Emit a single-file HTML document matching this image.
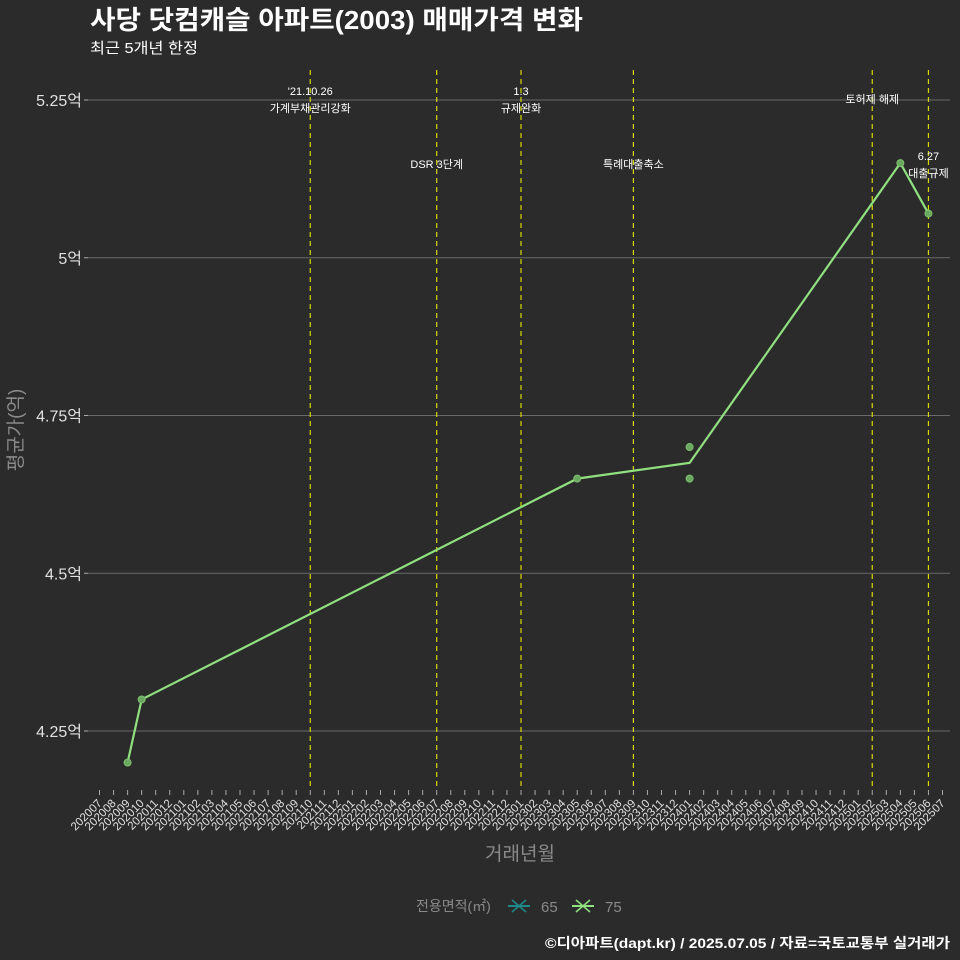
<!DOCTYPE html>
<html><head><meta charset="utf-8">
<style>
body{margin:0;background:#2b2b2b;}
svg{display:block;font-family:"Liberation Sans","Noto Sans CJK KR",sans-serif;}
</style></head>
<body>
<svg id="chart" width="960" height="960" viewBox="0 0 960 960">
<rect width="960" height="960" fill="#2b2b2b"/>
<text x="90" y="29" font-size="26" font-weight="bold" fill="#ffffff" textLength="493" lengthAdjust="spacingAndGlyphs">사당 닷컴캐슬 아파트(2003) 매매가격 변화</text>
<text x="90" y="53" font-size="15" fill="#ffffff" textLength="108" lengthAdjust="spacingAndGlyphs">최근 5개년 한정</text>
<g id="grid"></g><g id="vlines"></g><g id="series"></g><g id="xaxis"></g>
<text x="520" y="860" font-size="19" fill="#8a8a8a" text-anchor="middle">거래년월</text>
<text transform="translate(22,430) rotate(-90)" font-size="19" fill="#8a8a8a" text-anchor="middle">평균가(억)</text>
<g>
<text x="416" y="911" font-size="14" fill="#8a8a8a">전용면적(㎡)</text>
<g><line x1="508" y1="906" x2="530" y2="906" stroke="#1f8a8a" stroke-width="2"/><line x1="512" y1="900" x2="526" y2="912" stroke="#1f8a8a" stroke-width="1.5"/><line x1="512" y1="912" x2="526" y2="900" stroke="#1f8a8a" stroke-width="1.5"/><text x="541" y="912" font-size="15" fill="#8a8a8a">65</text></g>
<g><line x1="572" y1="906" x2="594" y2="906" stroke="#90e080" stroke-width="2"/><line x1="576" y1="900" x2="590" y2="912" stroke="#90e080" stroke-width="1.5"/><line x1="576" y1="912" x2="590" y2="900" stroke="#90e080" stroke-width="1.5"/><text x="605" y="912" font-size="15" fill="#8a8a8a">75</text></g>
</g>
<text x="545" y="948" font-size="14" font-weight="bold" fill="#ffffff" textLength="405" lengthAdjust="spacingAndGlyphs">©디아파트(dapt.kr) / 2025.07.05 / 자료=국토교통부 실거래가</text>
</svg>
<script>
const yTicks=[4.25,4.5,4.75,5.0,5.25];
const yTickLabels=["4.25억","4.5억","4.75억","5억","5.25억"];
const lineMonths=["202009","202010","202305","202401","202504","202506"];
const lineValues=[4.2,4.3,4.65,4.675,5.15,5.07];
const pointMonths=["202009","202010","202305","202401","202401","202504","202506"];
const pointValues=[4.2,4.3,4.65,4.7,4.65,5.15,5.07];
const eventMonths=["202110","202207","202301","202309","202502","202506"];
const eventLabels=[["'21.10.26","가계부채관리강화"],["DSR 3단계"],["1.3","규제완화"],["특례대출축소"],["토허제 해제"],["6.27","대출규제"]];
const eventRows=[0,1,0,1,0,1];

const NS="http://www.w3.org/2000/svg";
const months=[];for(let y=2020;y<=2025;y++)for(let m=1;m<=12;m++){const s=y+String(m).padStart(2,"0");if(s>="202007"&&s<="202507")months.push(s);}
const X=m=>99.5+months.indexOf(m)*14.05;
const Y=v=>731-(v-4.25)/0.25*157.75;
function mk(tag,attrs,parent){const e=document.createElementNS(NS,tag);for(const k in attrs)e.setAttribute(k,attrs[k]);parent.appendChild(e);return e;}
const grid=document.getElementById("grid");
yTicks.forEach((v,i)=>{
 const l=mk("line",{x1:88,x2:950,y1:Y(v),y2:Y(v),stroke:"#6a6a6a","stroke-width":1},grid);
 
 
 mk("line",{x1:84,x2:88,y1:Y(v),y2:Y(v),stroke:"#aaa"},grid);
 const t=mk("text",{x:82,y:Y(v)+6,"font-size":16,fill:"#e0e0e0","text-anchor":"end"},grid);
 t.textContent=yTickLabels[i];
 
 
});
const vl=document.getElementById("vlines");
eventMonths.forEach((m,i)=>{
 const x=X(m);
 const l=mk("line",{x1:x,x2:x,y1:70,y2:790,stroke:"#d8d800","stroke-width":1.2,"stroke-dasharray":"5,4"},vl);
 
 
 const lines=eventLabels[i];
 let y0=eventRows[i]===0?95:168;
 if(lines.length===1)y0=eventRows[i]===0?103:168;
 if(i===5)y0=160;
 lines.forEach((s,j)=>{
  const t=mk("text",{x:x,y:y0+j*17,"font-size":11,fill:"#ffffff","text-anchor":"middle"},vl);
  t.textContent=s;
  
  
 });
});
const se=document.getElementById("series");
const pl=mk("polyline",{points:lineMonths.map((m,i)=>X(m)+","+Y(lineValues[i])).join(" "),fill:"none",stroke:"#90e080","stroke-width":2.2},se);


pointMonths.forEach((m,i)=>{
 const c=mk("circle",{cx:X(m),cy:Y(pointValues[i]),r:3.5,fill:"#6aa860",stroke:"#80c070","stroke-width":1},se);
 
 
});
const xa=document.getElementById("xaxis");
months.forEach(m=>{
 const x=X(m);
 mk("line",{x1:x,x2:x,y1:790,y2:795,stroke:"#aaa"},xa);
 const t=mk("text",{x:x+3,y:804,"font-size":11.5,fill:"#e0e0e0","text-anchor":"end",transform:`rotate(-45 ${x+3} 804)`},xa);
 t.textContent=m;
 
 
});
</script>
</body></html>
